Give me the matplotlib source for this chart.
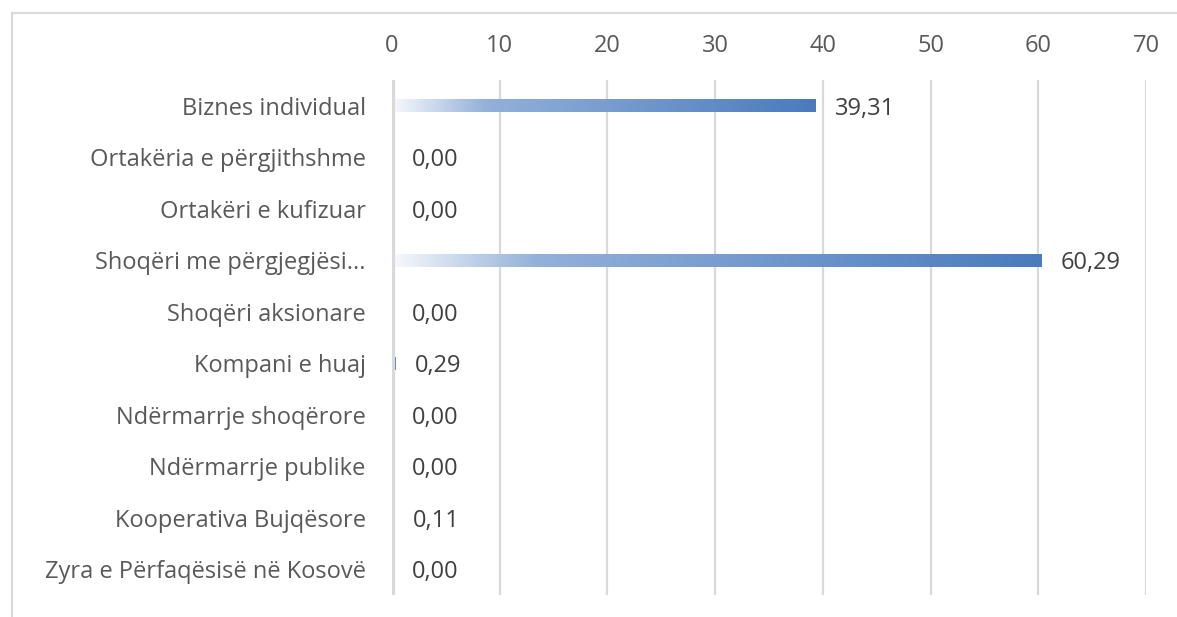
import numpy as np
import matplotlib
matplotlib.use("Agg")
import matplotlib.pyplot as plt
from matplotlib.colors import LinearSegmentedColormap
from matplotlib.patches import Rectangle

# chart data
categories = [
    "Biznes individual",
    "Ortakëria e përgjithshme",
    "Ortakëri e kufizuar",
    "Shoqëri me përgjegjësi...",
    "Shoqëri aksionare",
    "Kompani e huaj",
    "Ndërmarrje shoqërore",
    "Ndërmarrje publike",
    "Kooperativa Bujqësore",
    "Zyra e Përfaqësisë në Kosovë",
]
values = [39.31, 0.00, 0.00, 60.29, 0.00, 0.29, 0.00, 0.00, 0.11, 0.00]
xticks = [0, 10, 20, 30, 40, 50, 60, 70]

plt.rcParams['font.family'] = ['Open Sans', 'DejaVu Sans']
text_col = '#595959'
grid_col = '#d9d9d9'
fsize = 17

fig = plt.figure(figsize=(11.77, 6.17), dpi=100)
ax = fig.add_axes([0.3331, 0.0357, 0.6406, 0.8346])

y = np.arange(len(categories))
bars = ax.barh(y, values, height=0.25, color='none', edgecolor='none')

# gradient fill for each bar (white -> blue)
cmap = LinearSegmentedColormap.from_list(
    'bar_grad', [(0.0, '#f7f9fc'), (0.22, '#93b1d9'), (1.0, '#4a7bbd')])
grad = np.linspace(0, 1, 256).reshape(1, -1)
for bar, v in zip(bars, values):
    if v <= 0:
        continue
    x0, y0 = bar.get_x(), bar.get_y()
    h = bar.get_height()
    im = ax.imshow(grad, cmap=cmap, aspect='auto', interpolation='bilinear',
                   extent=[x0, x0 + v, y0 + h, y0], zorder=3)
    im.set_clip_path(bar)

# value labels
for i, v in enumerate(values):
    ax.annotate(f"{v:.2f}".replace('.', ','), xy=(v, i), xytext=(14, -2),
                textcoords='offset points', va='center', ha='left',
                fontsize=fsize, color='#404040')

ax.set_xlim(0, 70)
ax.set_ylim(len(categories) - 0.5, -0.5)
ax.set_xticks(xticks)
ax.set_yticks(y, categories)
ax.xaxis.tick_top()
ax.tick_params(axis='x', length=0, pad=16, labelsize=fsize, labelcolor=text_col)
ax.tick_params(axis='y', length=0, pad=19, labelsize=fsize, labelcolor=text_col)
ax.grid(axis='x', color=grid_col, linewidth=1.6, zorder=0)
ax.set_axisbelow(True)
for s in ax.spines.values():
    s.set_visible(False)
ax.axvline(0, color=grid_col, linewidth=4.5, zorder=4)

# outer chart border (partially cropped)
fig.add_artist(Rectangle((12 / 1177, -0.2), 1.2, 1 - 13 / 617 + 0.2,
                         transform=fig.transFigure, fill=False,
                         edgecolor=grid_col, linewidth=1.5))

fig.savefig('out.png', dpi=100)
